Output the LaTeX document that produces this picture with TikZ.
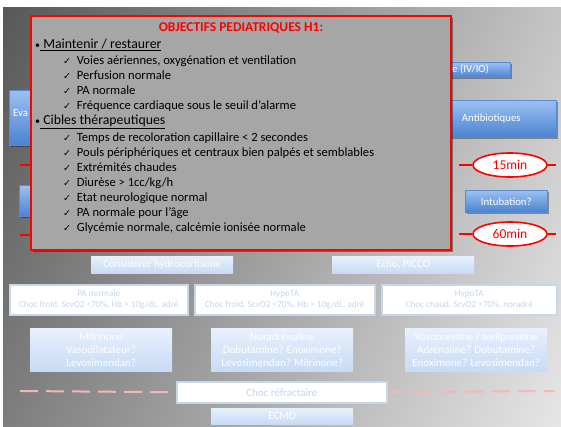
\documentclass[tikz,border=0pt]{standalone}
\usepackage{fontspec}
\setmainfont{Carlito}
\newfontfamily\symfont{DejaVu Sans}
\usetikzlibrary{shadows,shadings,shapes.geometric}
\definecolor{bgTL}{HTML}{585858}
\definecolor{bgTR}{HTML}{C4C4C4}
\definecolor{bgBL}{HTML}{7E7E7E}
\definecolor{bgBR}{HTML}{E6E6E6}
\definecolor{panelgray}{HTML}{A6A6A6}
\definecolor{alertred}{HTML}{FF0000}
\definecolor{blueTop}{HTML}{9CC0F2}
\definecolor{blueBot}{HTML}{4A83D0}
\definecolor{blueEdge}{HTML}{5A8AD0}
\definecolor{paleTop}{HTML}{E8F0FC}
\definecolor{paleBot}{HTML}{C8DBF5}
\definecolor{paleRule}{HTML}{4D89D4}
\definecolor{paleText}{HTML}{C5D5F0}
\definecolor{paleEdge}{HTML}{C9D6EA}
\definecolor{dashpink}{HTML}{F2B8B8}
\tikzset{
  boxshadow/.style={drop shadow={shadow xshift=1.5pt, shadow yshift=-1.5pt, opacity=0.35, fill=black}},
  bluebox/.style={draw=blueEdge, line width=0.6pt, top color=blueTop, bottom color=blueBot,
    text=white, inner sep=0pt, anchor=north west, font=\fontsize{10.8}{12}\selectfont, boxshadow},
  palebox/.style={top color=paleTop, bottom color=paleBot, text=white, inner sep=0pt,
    anchor=north west, align=center, font=\fontsize{11}{12.7}\selectfont,
    append after command={[draw=paleRule, line width=1pt]
      (\tikzlastnode.south west) -- (\tikzlastnode.south east)}},
  whitebox/.style={draw=paleEdge, line width=1.5pt, fill=white, text=paleText, inner sep=0pt,
    anchor=north west, align=center, boxshadow},
  timer/.style={ellipse, draw=alertred, line width=1.6pt, fill=white, text=alertred,
    minimum width=74pt, minimum height=24pt, inner sep=0pt, font=\fontsize{13.5}{15}\selectfont},
  redtick/.style={draw=alertred, line width=1.6pt},
  pinkdash/.style={draw=dashpink, line width=2pt, dash pattern=on 18pt off 8pt},
  item/.style={anchor=west, inner sep=0pt, text height=9pt, text depth=3pt,
    font=\fontsize{12.6}{14}\selectfont},
  head/.style={anchor=west, inner sep=0pt, text height=10pt, text depth=3.5pt,
    font=\fontsize{13.8}{15}\selectfont},
}
\newcommand{\tick}{{\symfont\fontsize{9.5}{11}\selectfont ✓}}
\newcommand{\smallbullet}{{\fontsize{10}{11}\selectfont\textbullet}}
\begin{document}
\begin{tikzpicture}[x=1pt,y=-1pt]
\useasboundingbox (0,0) rectangle (561,426);
\fill[white] (0,0) rectangle (561,426);
% slide background
\shade[upper left=bgTL, upper right=bgTR, lower left=bgBL, lower right=bgBR] (3,7) rectangle (561,426);

% blue action boxes
\node[bluebox, minimum width=111pt, minimum height=55pt] (eva) at (9,90) {};
\node[anchor=west, inner sep=0pt, text=white, font=\fontsize{10.8}{12}\selectfont] (evatext) at (13,113) {Eva};
\node[bluebox, minimum width=50pt, minimum height=31pt] (leftbox) at (19,185) {};
\node[bluebox, minimum width=110pt, minimum height=15pt] (access) at (400,62) {};
\node[anchor=west, inner sep=0pt, text=white, font=\fontsize{10.8}{12}\selectfont] (accesstext) at (452,69.5) {e (IV/IO)};
\node[bluebox, minimum width=130pt, minimum height=37pt] (abx) at (426,100) {Antibiotiques};
\node[bluebox, minimum width=82pt, minimum height=22pt] (intub) at (465,190) {Intubation?};

% time marks
\node[timer] (t15) at (510,165) {15min};
\node[timer] (t60) at (510,234) {60min};
\coordinate (t15l) at (459,165);
\coordinate (t15r) at (556,165);
\coordinate (t60l) at (459,234);
\coordinate (t60r) at (556,234);
\draw[redtick] (t15l) -- (t15.west);
\draw[redtick] (t15.east) -- (t15r);
\draw[redtick] (t60l) -- (t60.west);
\draw[redtick] (t60.east) -- (t60r);
\coordinate (m15a) at (20,165);
\coordinate (m15b) at (40,165);
\coordinate (m60a) at (20,235);
\coordinate (m60b) at (40,235);
\draw[redtick] (m15a) -- (m15b);
\draw[redtick] (m60a) -- (m60b);

% pale step boxes
\node[palebox, minimum width=142pt, minimum height=17pt] (hydro) at (91,256) {Considérer hydrocortisone};
\node[palebox, minimum width=142pt, minimum height=17pt] (echo) at (332,256) {Echo, PICCO};

\node[whitebox, minimum width=178pt, minimum height=30pt, font=\fontsize{9.2}{11.5}\selectfont] (shock1) at (9,284)
  {PA normale\\Choc froid, ScvO2 <70\%, Hb > 10g/dL, adré};
\node[whitebox, minimum width=180pt, minimum height=30pt, font=\fontsize{9.2}{11.5}\selectfont] (shock2) at (194,284)
  {HypoTA\\Choc froid, ScvO2 <70\%, Hb > 10g/dL, adré};
\node[whitebox, minimum width=175pt, minimum height=30pt, font=\fontsize{9.2}{11.5}\selectfont] (shock3) at (381,284)
  {HypoTA\\Choc chaud, ScvO2 >70\%, noradré};

\node[palebox, minimum width=142pt, minimum height=43pt] (drug1) at (30,328)
  {Milrinone\\Vasodilatateur?\\Levosimendan?};
\node[palebox, minimum width=142pt, minimum height=43pt] (drug2) at (211,328)
  {Noradrénaline\\Dobutamine? Enoximone?\\Levosimendan? Milrinone?};
\node[palebox, minimum width=142pt, minimum height=43pt] (drug3) at (405,328)
  {Vasopressine / terlipressine\\Adrénaline? Dobutamine?\\Enoximone? Levosimendan?};

\node[whitebox, minimum width=210pt, minimum height=21pt, font=\fontsize{11}{12}\selectfont] (refr) at (176,381) {Choc réfractaire};
\coordinate (dashL) at (20,391);
\coordinate (dashR) at (555,391);
\draw[pinkdash] (dashL) -- (refr.west);
\draw[pinkdash] (refr.east) -- (dashR);
\node[palebox, minimum width=142pt, minimum height=16pt] (ecmo) at (211,408) {ECMO};

% objectives panel
\node[draw=alertred, line width=2pt, fill=panelgray, anchor=north west, inner sep=0pt,
  minimum width=420pt, minimum height=234pt,
  drop shadow={shadow xshift=2pt, shadow yshift=-2pt, opacity=0.4, fill=black}] (panel) at (30,15) {};
\node[text=alertred, inner sep=0pt, font=\bfseries\fontsize{13.5}{15}\selectfont] (title) at (241,28) {OBJECTIFS PEDIATRIQUES H1:};
\node[head] (h1) at (35,45) {\smallbullet\underline{\ Maintenir / restaurer}};
\node[item] (a1) at (63,61) {\tick\ \ Voies aériennes, oxygénation et ventilation};
\node[item] (a2) at (63,76) {\tick\ \ Perfusion normale};
\node[item] (a3) at (63,91) {\tick\ \ PA normale};
\node[item] (a4) at (63,106) {\tick\ \ Fréquence cardiaque sous le seuil d’alarme};
\node[head] (h2) at (35,121) {\smallbullet\underline{\ Cibles thérapeutiques}};
\node[item] (b1) at (63,138) {\tick\ \ Temps de recoloration capillaire < 2 secondes};
\node[item] (b2) at (63,153) {\tick\ \ Pouls périphériques et centraux bien palpés et semblables};
\node[item] (b3) at (63,168) {\tick\ \ Extrémités chaudes};
\node[item] (b4) at (63,183) {\tick\ \ Diurèse > 1cc/kg/h};
\node[item] (b5) at (63,198) {\tick\ \ Etat neurologique normal};
\node[item] (b6) at (63,213) {\tick\ \ PA normale pour l’âge};
\node[item] (b7) at (63,228) {\tick\ \ Glycémie normale, calcémie ionisée normale};
\end{tikzpicture}
\end{document}
